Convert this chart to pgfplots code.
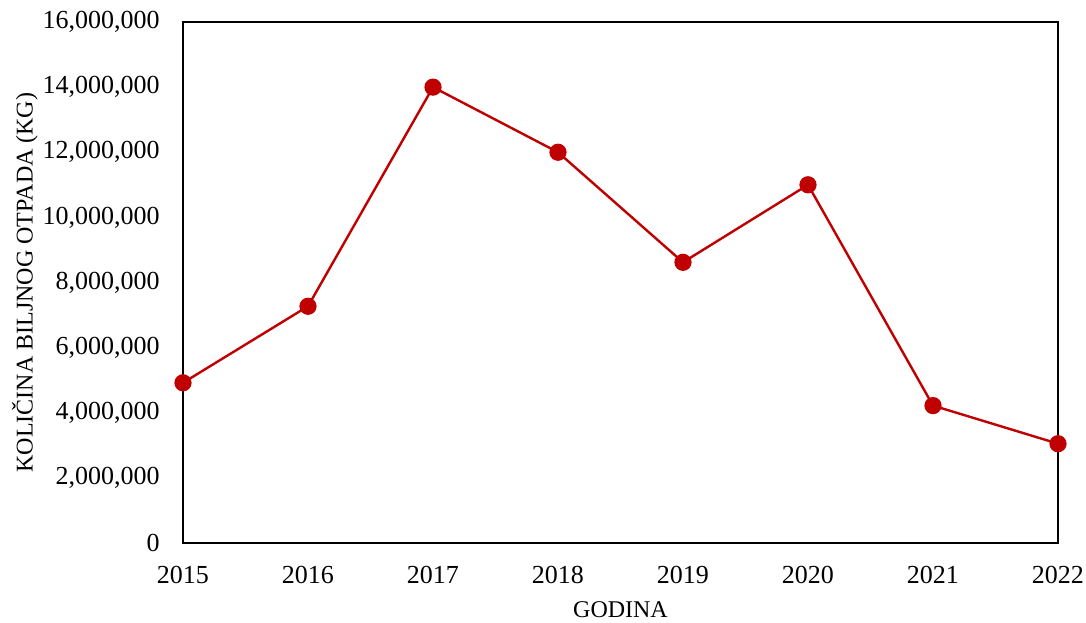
\documentclass[border=0pt]{standalone}
\usepackage{pgfplots}
\pgfplotsset{compat=1.18}
\usepackage{fontspec}
\setmainfont{Liberation Serif}
\definecolor{lred}{HTML}{C00000}
\begin{document}
\begin{tikzpicture}
\begin{axis}[
  scale only axis,
  width=437.5pt, height=260.5pt,
  xmin=2015, xmax=2022, ymin=0, ymax=16000000,
  xtick={2015,...,2022},
  ytick distance=2000000,
  scaled y ticks=false,
  major tick length=0pt,
  axis line style={black, line width=1.2pt},
  /pgf/number format/assume math mode=true,
  yticklabel style={/pgf/number format/fixed, /pgf/number format/1000 sep={,}, /pgf/number format/precision=0},
  xticklabel style={/pgf/number format/1000 sep={}},
  tick label style={font=\fontsize{13}{15}\selectfont},
  yticklabel style={inner sep=0pt, anchor=east, xshift=-11.5pt},
  xticklabel style={inner sep=0pt, anchor=center, yshift=-16pt},
  xlabel={GODINA},
  ylabel={KOLIČINA BILJNOG OTPADA (KG)},
  every axis x label/.style={at={(axis description cs:0.5,0)}, yshift=-33.5pt, anchor=center},
  every axis y label/.style={at={(axis description cs:0,0.5)}, xshift=-79pt, rotate=90, anchor=center},
  label style={font=\fontsize{12}{14}\selectfont},
  clip=false,
]
\addplot[color=lred, line width=1.2pt, mark=*, mark size=3.7pt, mark options={fill=lred, draw=lred}]
coordinates {
(2015,4920000) (2016,7270000) (2017,14000000) (2018,12000000)
(2019,8620000) (2020,11000000) (2021,4220000) (2022,3050000)
};
\end{axis}
\pgfresetboundingbox
\path (current axis.south west) ++(-91.5pt,-39.5pt) rectangle ++(543pt,311pt);
\end{tikzpicture}
\end{document}
